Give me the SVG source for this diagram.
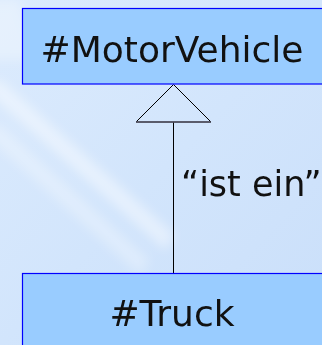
<svg xmlns="http://www.w3.org/2000/svg" width="322" height="345" viewBox="0 0 322 345">
  <style>
    .cls { fill: #99ccff; stroke: #0000ff; stroke-width: 1.2; }
    .lbl { font-family: "DejaVu Sans", sans-serif; font-size: 36px; fill: #111111; }
    .edge-lbl { font-size: 35px; }
    .conn { fill: none; stroke: #000000; stroke-width: 1; }
  </style>
  <defs>
    <linearGradient id="bg" x1="0" y1="0" x2="1" y2="1">
      <stop offset="0" stop-color="#dcebfd"/>
      <stop offset="0.5" stop-color="#d2e5fc"/>
      <stop offset="1" stop-color="#cadffa"/>
    </linearGradient>
    <filter id="soft" x="-30%" y="-30%" width="160%" height="160%">
      <feGaussianBlur stdDeviation="6"/>
    </filter>
  </defs>

  <!-- backdrop with diagonal light streaks -->
  <rect x="0" y="0" width="322" height="345" fill="url(#bg)"/>
  <g filter="url(#soft)" fill="#ffffff">
    <polygon points="-20,85 0,80 175,235 165,250" opacity="0.45"/>
    <polygon points="-20,130 0,125 150,260 140,275" opacity="0.3"/>
    <polygon points="-20,0 20,0 40,60 -20,60" opacity="0.3"/>
  </g>

  <!-- inheritance connector -->
  <g id="connectors">
    <line class="conn" x1="173.5" y1="122" x2="173.5" y2="273"/>
    <polygon class="conn" points="173.5,84.5 136,122 211,122" fill="#d6e8fc"/>
    <line x1="136" y1="122" x2="211" y2="122" stroke="#555566" stroke-width="1.5"/>
    <text class="lbl edge-lbl" x="181" y="196">“ist ein”</text>
  </g>

  <g id="motorvehicle">
    <rect class="cls" x="22.5" y="8.5" width="320" height="75.5"/>
    <text class="lbl" x="172" y="62" text-anchor="middle">#MotorVehicle</text>
  </g>

  <g id="truck">
    <rect class="cls" x="22.5" y="273.5" width="320" height="90"/>
    <text class="lbl" x="172" y="326" text-anchor="middle">#Truck</text>
  </g>
</svg>
